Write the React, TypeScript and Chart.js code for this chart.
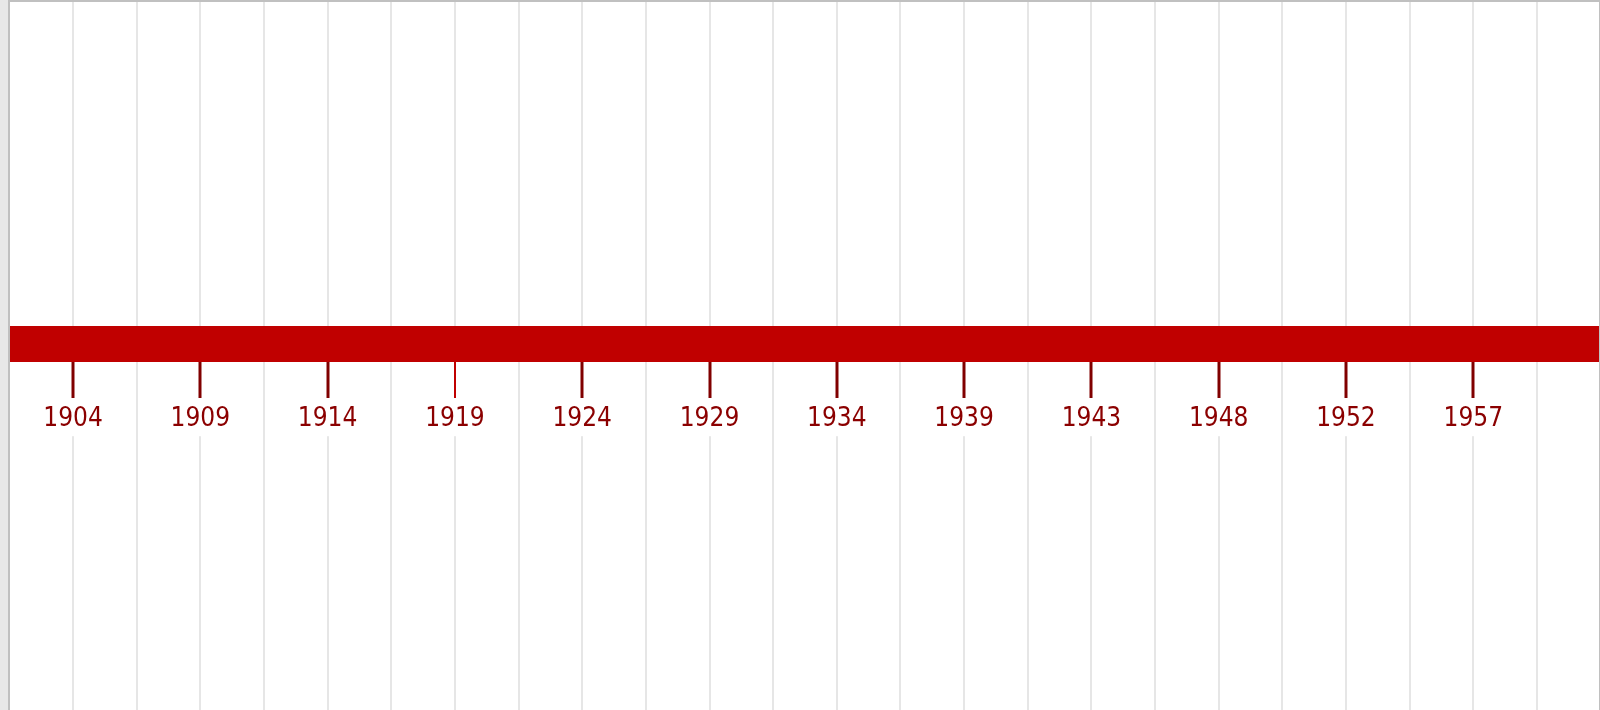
import React, { useEffect, useRef } from 'react';
import { Chart, registerables } from 'chart.js';

Chart.register(...registerables);

// Year labels shown under every second gridline (gridline index 0, 2, 4, ...)
const TICK_LABELS = ['1904', '1909', '1914', '1919', '1924', '1929', '1934', '1939', '1943', '1948', '1952', '1957'];
// x axis is measured in gridline steps
const X_MIN = -0.99;
const X_MAX = 23.975;
const GRID_STEP = 1;
// the timeline band runs across the whole axis at y = 0
const BAND_Y = 0;
const BAND_START = X_MIN;
const BAND_END = X_MAX;
const Y_MIN = -1.07;
const Y_MAX = 1;
const HIGHLIGHT_TICK = 6; // the 1919 mark is drawn thinner and brighter

const BAND_RED = '#c00000';
const TICK_RED = '#800000';
const LABEL_RED = '#8b0000';
const GRID_GRAY = '#e6e6e6';
const FONT = "'DejaVu Sans Condensed', 'Liberation Sans', sans-serif";

function labelFor(value: number): string {
  const i = Math.round(value);
  if (Math.abs(value - i) > 1e-6 || i % 2 !== 0) return '';
  return TICK_LABELS[i / 2] ?? '';
}

function isLabelled(value: number): boolean {
  return labelFor(value) !== '';
}

export default function App() {
  const canvasRef = useRef<HTMLCanvasElement | null>(null);

  useEffect(() => {
    const canvas = canvasRef.current;
    if (!canvas) return;
    const chart = new Chart(canvas, {
      type: 'line',
      data: {
        datasets: [
          {
            data: [
              { x: BAND_START, y: BAND_Y },
              { x: BAND_END, y: BAND_Y },
            ],
            borderColor: BAND_RED,
            backgroundColor: BAND_RED,
            borderWidth: 36,
            borderCapStyle: 'butt',
            pointRadius: 0,
            pointHoverRadius: 0,
            fill: false,
          },
        ],
      },
      options: {
        responsive: false,
        maintainAspectRatio: false,
        animation: false,
        events: [],
        layout: { padding: 0, autoPadding: false },
        plugins: {
          legend: { display: false },
          tooltip: { enabled: false },
          title: { display: false },
        },
        scales: {
          x: {
            type: 'linear',
            position: { y: BAND_Y } as any,
            min: X_MIN,
            max: X_MAX,
            afterFit: (scale: any) => {
              scale.height = 0;
            },
            border: { display: false },
            grid: {
              display: true,
              drawOnChartArea: true,
              drawTicks: true,
              color: GRID_GRAY,
              lineWidth: 2,
              tickLength: 54,
              tickColor: (ctx: any) => {
                const v = ctx.tick ? ctx.tick.value : NaN;
                if (!isLabelled(v)) return 'rgba(0,0,0,0)';
                return Math.round(v) === HIGHLIGHT_TICK ? BAND_RED : TICK_RED;
              },
              tickWidth: (ctx: any) => {
                const v = ctx.tick ? ctx.tick.value : NaN;
                return Math.round(v) === HIGHLIGHT_TICK ? 2 : 3;
              },
            },
            ticks: {
              stepSize: GRID_STEP,
              includeBounds: false,
              autoSkip: false,
              maxRotation: 0,
              minRotation: 0,
              padding: 6,
              color: LABEL_RED,
              font: { family: FONT, size: 26 },
              callback: (value: any) => labelFor(Number(value)),
              showLabelBackdrop: (ctx: any) => isLabelled(ctx.tick ? ctx.tick.value : NaN),
              backdropColor: '#ffffff',
              backdropPadding: { top: 6, bottom: 1, left: 2, right: 2 },
            },
          },
          y: {
            type: 'linear',
            display: false,
            min: Y_MIN,
            max: Y_MAX,
          },
        },
      },
    });
    return () => chart.destroy();
  }, []);

  return (
    <div
      style={{
        position: 'fixed',
        left: 0,
        top: 0,
        width: 1600,
        height: 710,
        background: '#e8e8e8',
        overflow: 'hidden',
      }}
    >
      <div
        style={{
          position: 'absolute',
          left: 8,
          top: 0,
          width: 1589,
          height: 720,
          background: '#ffffff',
          borderTop: '2px solid #c0c0c0',
          borderLeft: '2px solid #c0c0c0',
          borderRight: '1px solid #c0c0c0',
        }}
      >
        <canvas ref={canvasRef} width={1589} height={708} style={{ display: 'block' }} />
      </div>
    </div>
  );
}
